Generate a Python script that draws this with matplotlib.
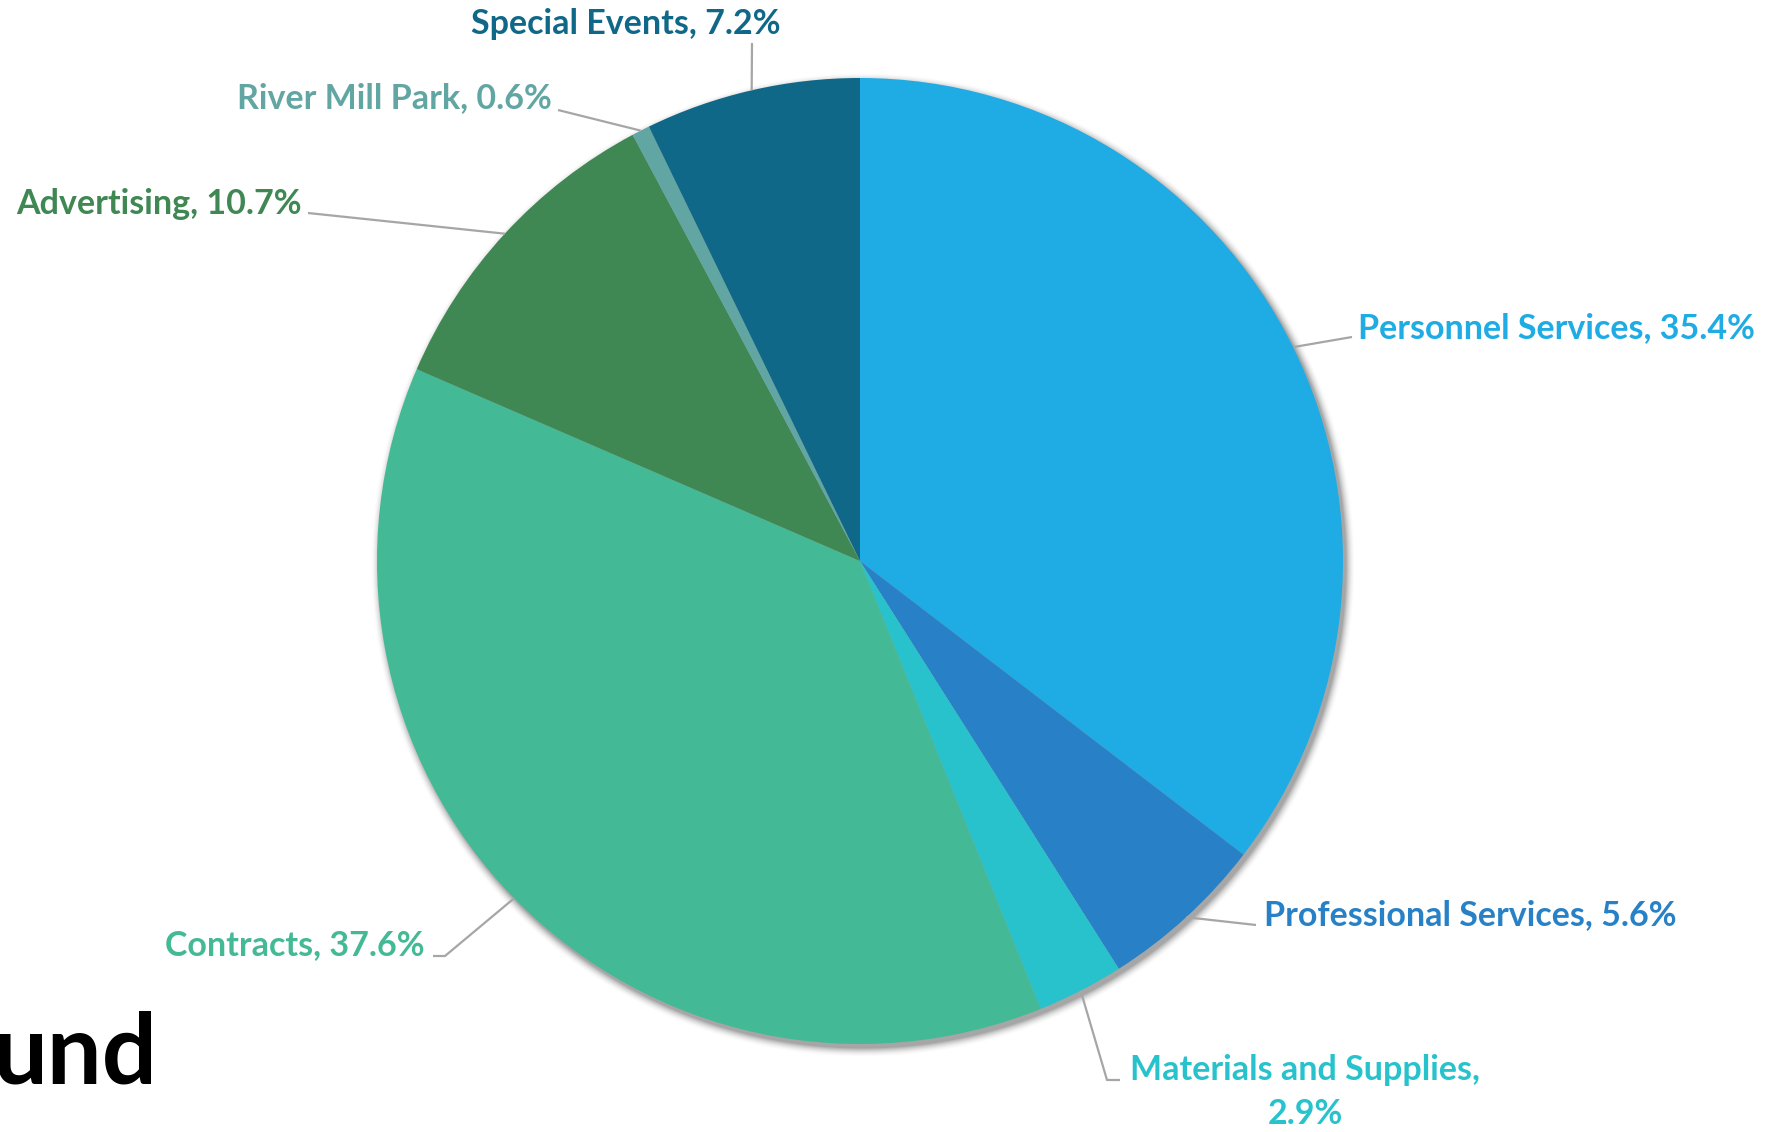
import numpy as np
import matplotlib
matplotlib.use("Agg")
import matplotlib.pyplot as plt

categories = ["Personnel Services", "Professional Services", "Materials and Supplies",
              "Contracts", "Advertising", "River Mill Park", "Special Events"]
shares = [35.4, 5.6, 2.9, 37.6, 10.7, 0.6, 7.2]
colors = ["#1FABE3", "#2881C6", "#27C2CC", "#44B995", "#3F8753", "#62A6A3", "#106888"]
label_texts = ["Personnel Services, 35.4%", "Professional Services, 5.6%",
               "Materials and Supplies,\n2.9%", "Contracts, 37.6%",
               "Advertising, 10.7%", "River Mill Park, 0.6%", "Special Events, 7.2%"]

W, H = 1774, 1132
fig = plt.figure(figsize=(W / 100, H / 100), dpi=100)
ax = fig.add_axes([0, 0, 1, 1])

cx, cy, R = 860, 561, 483

# soft drop shadow behind the pie
yy, xx = np.mgrid[0:H, 0:W] + 0.5
d = np.hypot(xx - (cx + 3), yy - (cy + 4)) - R
alpha = np.clip(1 - d / 10.0, 0, 1) ** 2 * 0.35
shadow = np.zeros((H, W, 4))
shadow[..., 3] = alpha
ax.imshow(shadow, extent=(0, W, H, 0), zorder=0, interpolation="bilinear")

# y axis runs downward, so a start of -90 is the top and counterclock runs clockwise on screen
wedges, _ = ax.pie(shares, colors=colors, startangle=-90, counterclock=True,
                   center=(cx, cy), radius=R, frame=True,
                   wedgeprops=dict(linewidth=0))
for w in wedges:
    w.set_zorder(1)
ax.set_xlim(0, W)
ax.set_ylim(H, 0)
ax.set_aspect("equal")
ax.axis("off")

# label placement: (text x, text y, ha, linespacing, elbow points from edge outward)
layout = [
    (1358, 328, "left", [(1352, 337)]),
    (1264, 915, "left", [(1256, 925)]),
    (1305, 1092, "center", [(1107, 1080), (1120, 1080)]),
    (425, 945, "right", [(445, 956), (433, 956)]),
    (302, 204, "right", [(308, 213)]),
    (552, 98, "right", [(558, 110)]),
    (626, 24, "center", [(752, 43)]),
]

font = "Lato"
cum = 0.0
for share, txt, col, (tx, ty, ha, pts) in zip(shares, label_texts, colors, layout):
    mid = cum + share / 2
    cum += share
    ang = np.deg2rad(90 - mid * 3.6)
    ex, ey = cx + R * np.cos(ang), cy - R * np.sin(ang)
    xs = [ex] + [p[0] for p in pts]
    ys = [ey] + [p[1] for p in pts]
    ax.plot(xs, ys, color="#A6A6A6", lw=1.6, zorder=2, solid_capstyle="butt")
    ax.text(tx, ty, txt, color=col, fontsize=24.5, fontweight="bold", family=font,
            ha=ha, va="center", multialignment="center", linespacing=1.47, zorder=3)

ax.text(-8, 1055, "und", color="black", fontsize=70, fontweight="bold",
        family=font, ha="left", va="center", zorder=3)

fig.savefig("out.png", dpi=100, facecolor="white")
